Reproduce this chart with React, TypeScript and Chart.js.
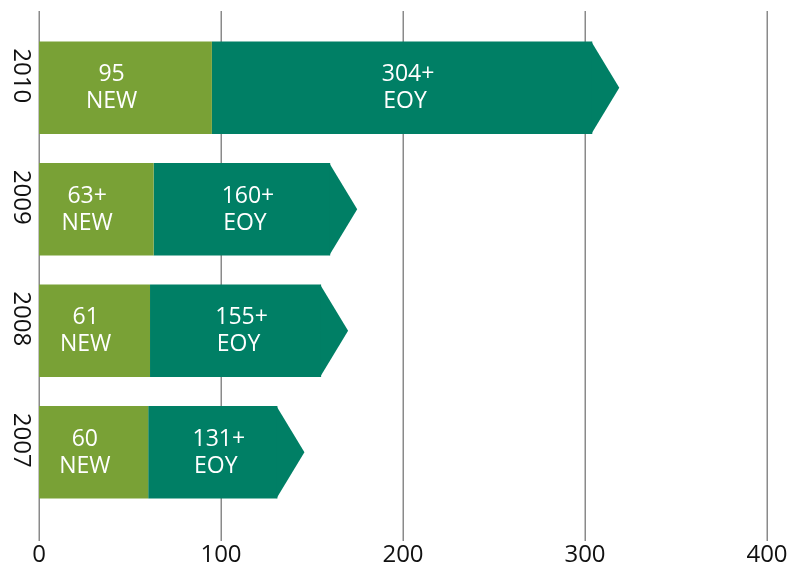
import { useEffect, useRef } from 'react';
import { Chart, registerables } from 'chart.js';

Chart.register(...registerables);

const years = ['2010', '2009', '2008', '2007'];
const newValues = [95, 63, 61, 60];
const eoyValues = [304, 160, 155, 131];
const newLabels = ['95', '63+', '61', '60'];
const eoyLabels = ['304+', '160+', '155+', '131+'];
const xTicks = [0, 100, 200, 300, 400];

const LIGHT = '#79A136';
const DARK = '#007F65';
const GRID = '#8a8a8a';
const FONT = '"Open Sans", sans-serif';

const decorPlugin = {
  id: 'decor',
  beforeDatasetsDraw(chart: any) {
    const ctx = chart.ctx;
    const xs = chart.scales.x;
    ctx.save();
    ctx.strokeStyle = GRID;
    ctx.lineWidth = 1.5;
    xTicks.forEach((v) => {
      const x = Math.round(xs.getPixelForValue(v)) + 0.25;
      ctx.beginPath();
      ctx.moveTo(x, 11);
      ctx.lineTo(x, 541);
      ctx.stroke();
    });
    // year labels
    const ys = chart.scales.y;
    ctx.fillStyle = '#111';
    ctx.font = `24px ${FONT}`;
    ctx.textAlign = 'center';
    ctx.textBaseline = 'middle';
    years.forEach((yr, i) => {
      const y = ys.getPixelForValue(i) - 12;
      ctx.save();
      ctx.translate(21, y);
      ctx.rotate(Math.PI / 2);
      ctx.fillText(yr, 0, 0);
      ctx.restore();
    });
    ctx.restore();
  },
  afterDatasetsDraw(chart: any) {
    const ctx = chart.ctx;
    const xs = chart.scales.x;
    const meta0 = chart.getDatasetMeta(0);
    const meta1 = chart.getDatasetMeta(1);
    ctx.save();
    // arrow tips
    meta1.data.forEach((bar: any) => {
      const h = bar.height;
      ctx.fillStyle = DARK;
      ctx.beginPath();
      ctx.moveTo(bar.x - 1, bar.y - h / 2);
      ctx.lineTo(bar.x + 27, bar.y);
      ctx.lineTo(bar.x - 1, bar.y + h / 2);
      ctx.closePath();
      ctx.fill();
    });
    ctx.fillStyle = '#ffffff';
    ctx.font = `23px ${FONT}`;
    ctx.textAlign = 'center';
    ctx.textBaseline = 'middle';
    meta0.data.forEach((bar: any, i: number) => {
      const cx = xs.getPixelForValue(newValues[i] * 0.42);
      ctx.fillText(newLabels[i], cx, bar.y - 13);
      ctx.fillText('NEW', cx, bar.y + 14);
    });
    meta1.data.forEach((bar: any, i: number) => {
      const cx = (bar.base + bar.x) / 2 + 6;
      ctx.fillText(eoyLabels[i], cx, bar.y - 13);
      ctx.fillText('EOY', cx - 3, bar.y + 14);
    });
    ctx.restore();
  },
};

export default function App() {
  const ref = useRef<HTMLCanvasElement>(null);
  useEffect(() => {
    const chart = new Chart(ref.current!, {
      type: 'bar',
      data: {
        labels: years,
        datasets: [
          {
            label: 'NEW',
            data: newValues,
            backgroundColor: LIGHT,
            borderWidth: 0,
            barPercentage: 0.76,
            categoryPercentage: 1,
          },
          {
            label: 'EOY',
            data: eoyValues.map((v, i) => v - newValues[i]),
            backgroundColor: DARK,
            borderWidth: 0,
            barPercentage: 0.76,
            categoryPercentage: 1,
          },
        ],
      },
      options: {
        indexAxis: 'y',
        animation: false,
        responsive: false,
        layout: { padding: { left: 39, right: 21, top: 27, bottom: 0 } },
        plugins: { legend: { display: false }, tooltip: { enabled: false } },
        scales: {
          x: {
            stacked: true,
            min: 0,
            max: 400,
            grid: { display: false, drawTicks: false },
            border: { display: false },
            ticks: {
              stepSize: 100,
              color: '#111',
              font: { family: FONT, size: 24 },
              padding: 28,
            },
            afterFit: (scale: any) => {
              scale.height = 60;
              scale.paddingLeft = 0;
              scale.paddingRight = 0;
            },
          },
          y: { stacked: true, display: false },
        },
      } as any,
      plugins: [decorPlugin],
    });
    return () => chart.destroy();
  }, []);
  return (
    <div style={{ position: 'absolute', left: 0, top: 0, width: 788, height: 573 }}>
      <canvas ref={ref} width={788} height={573} />
    </div>
  );
}
